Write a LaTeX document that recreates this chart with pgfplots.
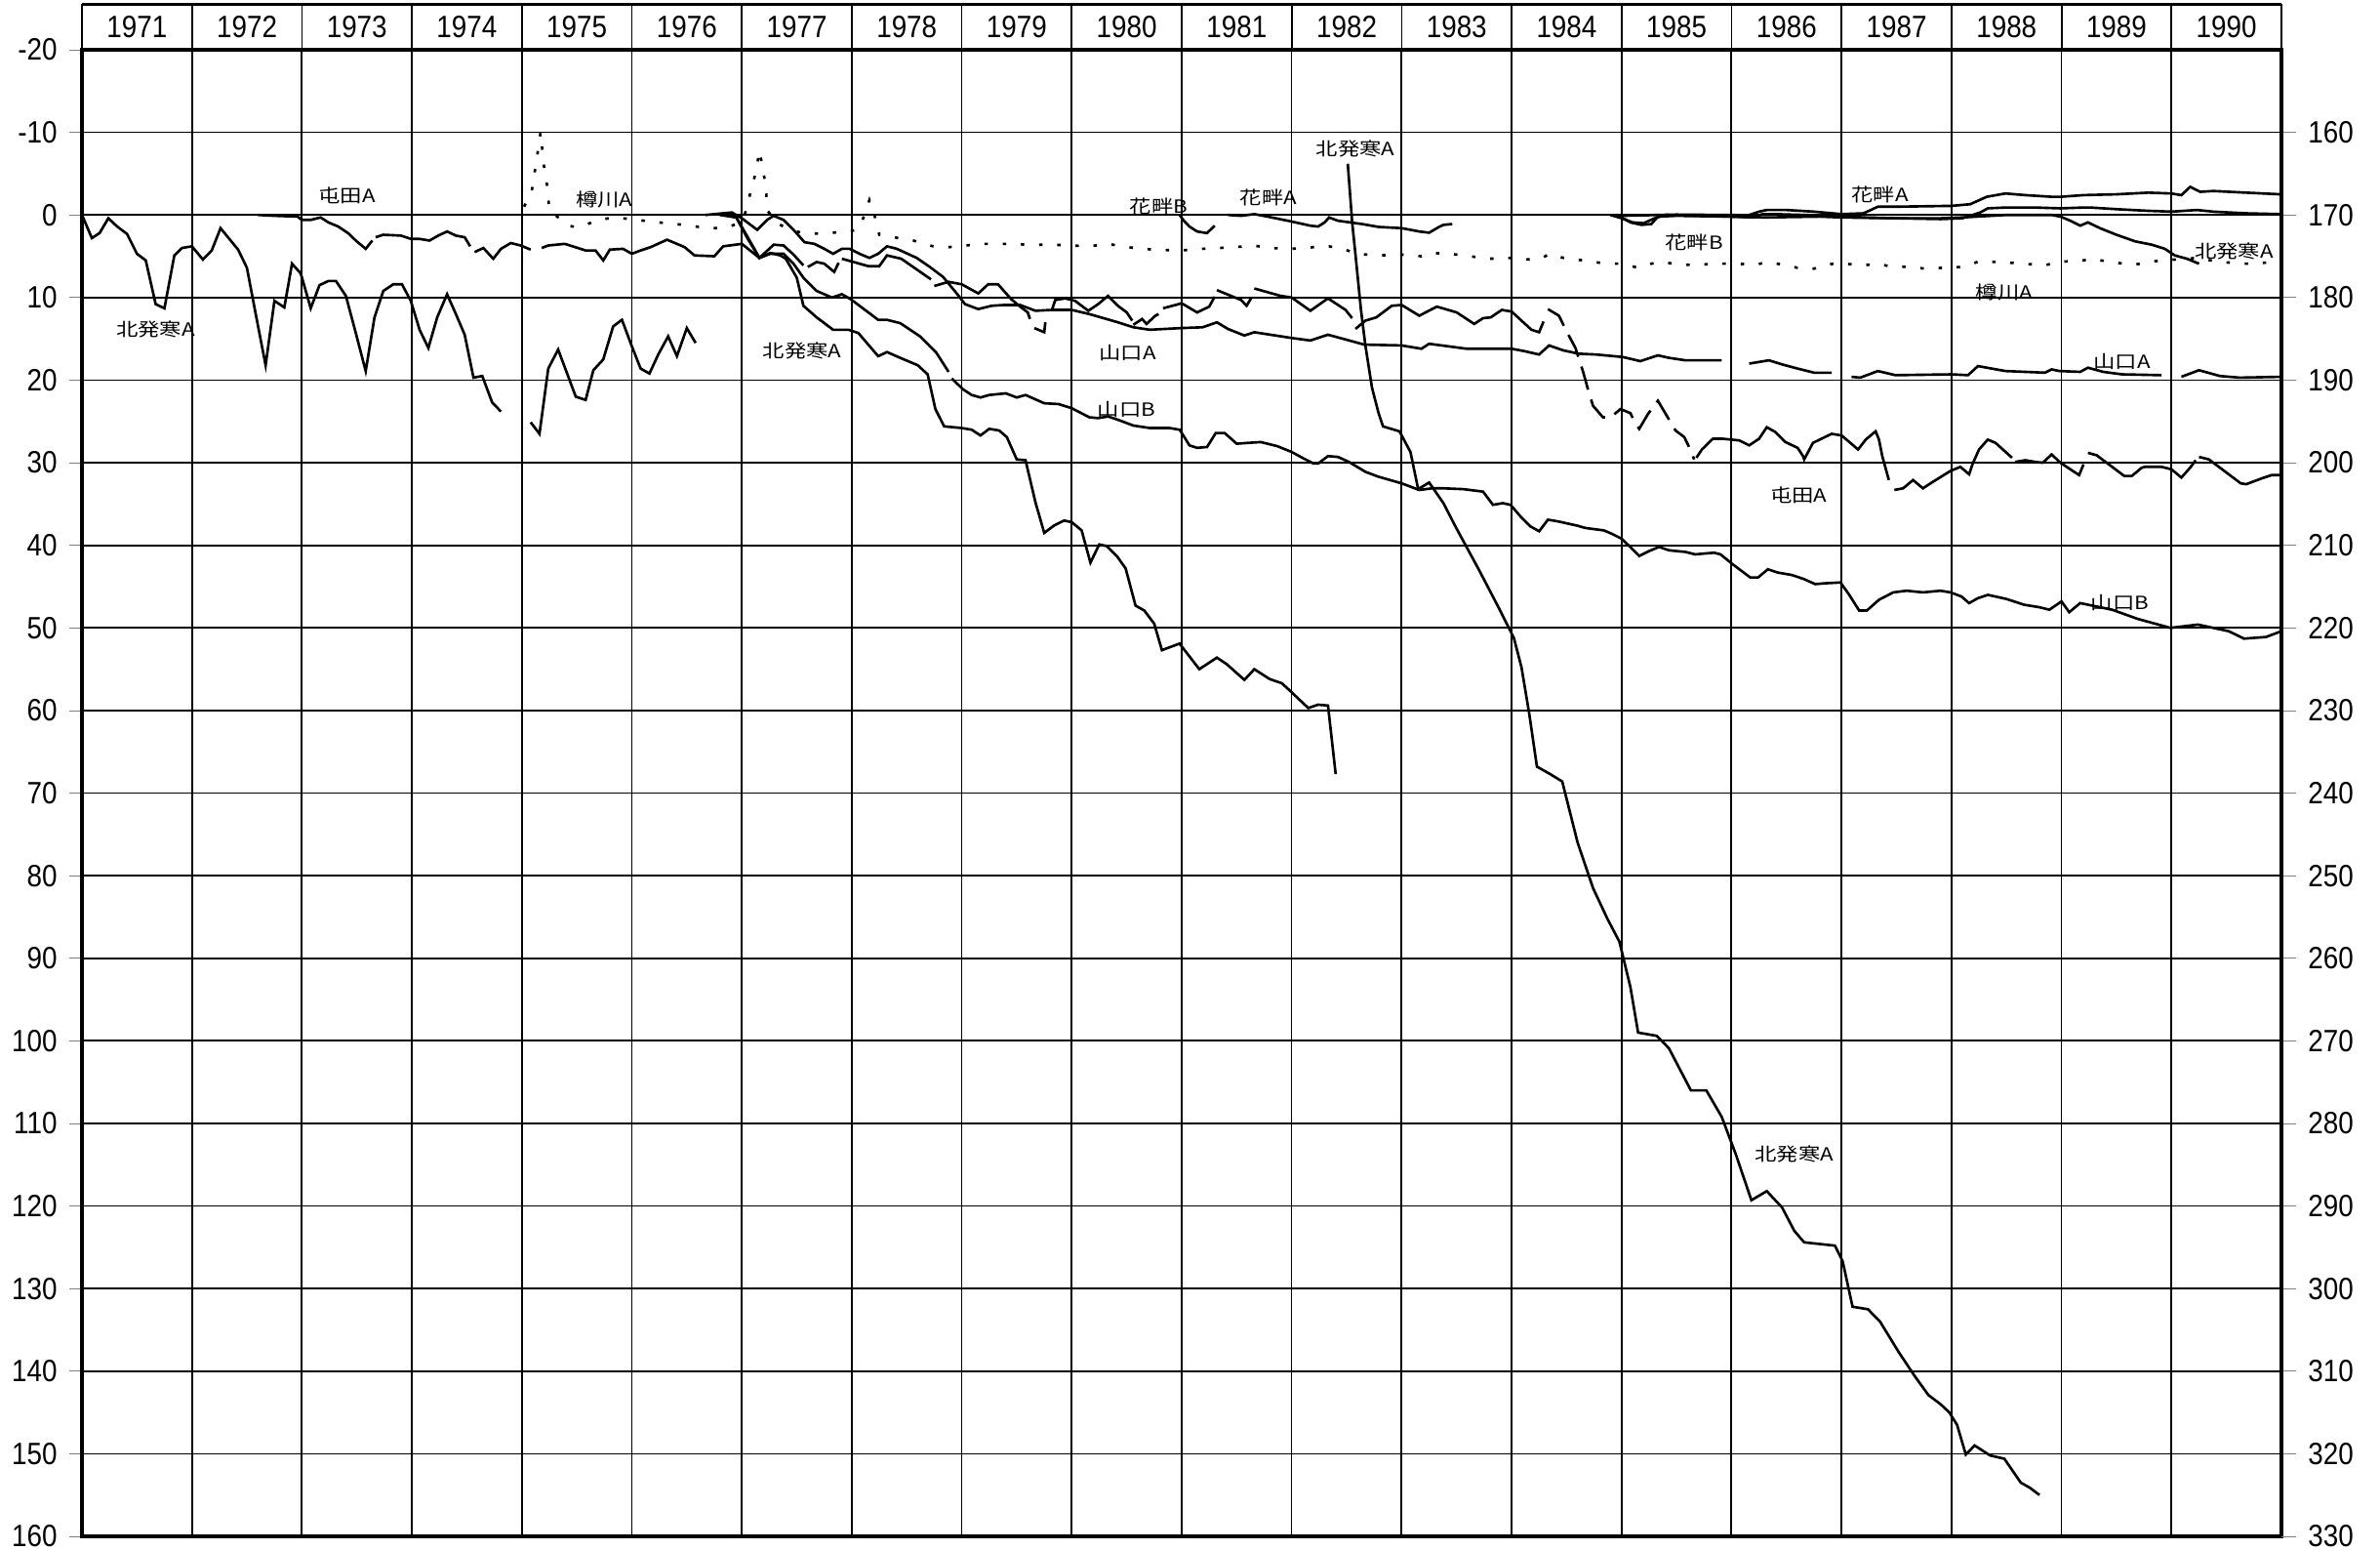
\documentclass[border=0pt]{standalone}
\usepackage{fontspec}
\setmainfont{Liberation Sans}[FakeStretch=0.88]
\newfontfamily\cjk{Noto Sans CJK JP}[FakeStretch=1.2]
\usepackage{pgfplots}
\pgfplotsset{compat=1.18}
\newcommand{\lab}{\cjk\fontsize{5.3}{5.3}\selectfont}
\begin{document}
\begin{tikzpicture}
\path[use as bounding box] (-0.84cm,-0.14cm) rectangle (23.55cm,15.74cm);
\begin{axis}[
  width=22.54cm, height=15.23cm, scale only axis,
  xmin=1971, xmax=1991, ymin=-20, ymax=160, y dir=reverse,
  xtick={1971,...,1991}, xticklabels={}, xtick style={draw=none},
  ytick={-20,-10,...,160}, ytick pos=left,
  tick align=outside, major tick length=0.13cm,
  grid=major, major grid style={black, line width=0.5pt},
  axis line style={line width=1.1pt},
  yticklabel style={font=\fontsize{9}{9}\selectfont},
  /pgf/number format/assume math mode=true,
  unbounded coords=jump, clip=false,
  cycle list={{black,solid,mark=none}},
  no markers,
  every axis plot post/.append style={line width=0.75pt},
]
% header
\draw[line width=1.1pt] (axis cs:1971,-25.5) -- (axis cs:1991,-25.5);
\pgfplotsinvokeforeach{1971,...,1991}{\draw[line width=0.5pt] (axis cs:#1,-20) -- (axis cs:#1,-25.5);}
\pgfplotsinvokeforeach{1971,...,1990}{\node[font=\fontsize{9}{9}\selectfont] at (axis cs:#1.5,-22.8) {#1};}

% 北発寒A
\addplot coordinates {(1971.0,0) (1971.09,2.8) (1971.16,2.2) (1971.24,0.4) (1971.32,1.4) (1971.41,2.3) (1971.50,4.7) (1971.58,5.5) (1971.67,10.8) (1971.75,11.3) (1971.84,4.9) (1971.91,4.0) (1972.0,3.8) (1972.10,5.4) (1972.18,4.3) (1972.26,1.6) (1972.34,2.9) (1972.42,4.2) (1972.50,6.4) (1972.58,12.0) (1972.67,18.2) (1972.75,10.4) (1972.84,11.2) (1972.91,5.9) (1972.99,7.1) (1973.08,11.3) (1973.16,8.5) (1973.24,8.0) (1973.31,8.0) (1973.40,9.8) (1973.49,14.3) (1973.58,18.9) (1973.66,12.4) (1973.74,9.2) (1973.83,8.4) (1973.91,8.4) (1973.99,10.4) (1974.07,13.9) (1974.15,16.1) (1974.23,12.4) (1974.32,9.6) (1974.40,12.0) (1974.48,14.5) (1974.56,19.7) (1974.64,19.5) (1974.73,22.7) (1974.81,23.8) (1974.95,nan)
(1975.08,25.1) (1975.16,26.5) (1975.24,18.6) (1975.33,16.3) (1975.49,22.0) (1975.58,22.4) (1975.65,18.8) (1975.74,17.5) (1975.83,13.5) (1975.91,12.7) (1976.0,15.9) (1976.08,18.6) (1976.16,19.2) (1976.24,16.9) (1976.33,14.7) (1976.41,17.1) (1976.50,13.7) (1976.58,15.5)};
\addplot coordinates {(1976.85,0) (1976.95,0.3) (1977.05,2.8) (1977.16,5.2) (1977.26,4.6) (1977.35,4.9) (1977.40,5.3) (1977.50,7.6) (1977.56,11.0) (1977.68,12.4) (1977.83,13.9) (1977.97,13.9) (1978.06,14.3) (1978.24,17.1) (1978.32,16.6) (1978.44,17.3) (1978.6,18.2) (1978.69,19.3) (1978.76,23.5) (1978.84,25.6) (1979.0,25.8) (1979.09,26.0) (1979.17,26.7) (1979.25,25.9) (1979.34,26.1) (1979.41,26.9) (1979.50,29.6) (1979.58,29.7) (1979.67,34.8) (1979.75,38.5) (1979.84,37.6) (1979.93,37.0) (1980.0,37.2) (1980.09,38.2) (1980.17,42.1) (1980.25,39.9) (1980.32,40.1) (1980.41,41.3) (1980.49,42.8) (1980.58,47.3) (1980.66,47.9) (1980.75,49.5) (1980.82,52.7) (1980.98,51.9) (1981.16,55.0) (1981.32,53.6) (1981.41,54.4) (1981.57,56.3) (1981.66,55.0) (1981.80,56.2) (1981.91,56.7) (1982.0,57.8) (1982.15,59.7) (1982.24,59.3) (1982.33,59.4) (1982.40,67.7)};
\addplot coordinates {(1982.51,-6.2) (1982.55,0.9) (1982.58,4.8) (1982.63,11.5) (1982.67,15.8) (1982.73,20.9) (1982.79,24.0) (1982.83,25.6) (1982.98,26.2) (1983.08,28.7) (1983.15,33.2) (1983.25,32.4) (1983.38,34.9) (1983.50,38.0) (1983.70,42.9) (1983.88,47.5) (1984.02,51.2) (1984.09,54.8) (1984.16,60.4) (1984.23,66.8) (1984.35,67.7) (1984.46,68.6) (1984.60,76.0) (1984.74,81.5) (1984.87,85.2) (1984.98,88.0) (1985.08,93.5) (1985.15,99.0) (1985.32,99.4) (1985.43,100.9) (1985.63,106.0) (1985.77,106.0) (1985.91,109.2) (1986.04,113.8) (1986.18,119.3) (1986.32,118.2) (1986.46,120.2) (1986.57,123.0) (1986.66,124.4) (1986.94,124.8) (1987.01,126.7) (1987.10,132.2) (1987.24,132.5) (1987.35,134.0) (1987.52,137.7) (1987.66,140.5) (1987.79,142.9) (1987.90,144.0) (1987.98,145.0) (1988.05,146.5) (1988.13,150.1) (1988.21,149.0) (1988.35,150.2) (1988.48,150.6) (1988.63,153.5) (1988.71,154.1) (1988.80,155.0)};
\addplot coordinates {(1984.9,0) (1985.0,0.4) (1985.1,0.9) (1985.2,1.0) (1985.3,0.4) (1985.4,0.0) (1986.0,0.2) (1986.3,0.3) (1986.8,0.2) (1987.0,0.3) (1987.5,0.4) (1987.9,0.4) (1988.1,0.3) (1988.5,0.0) (1988.91,0) (1988.99,0.2) (1989.08,0.7) (1989.17,1.3) (1989.24,0.9) (1989.35,1.6) (1989.50,2.4) (1989.67,3.2) (1989.82,3.6) (1989.94,4.1) (1990.03,4.9) (1990.14,5.3) (1990.25,5.9)};

% 花畔A
\addplot coordinates {(1981.42,0) (1981.54,0.1) (1981.66,-0.1) (1981.78,0.2) (1982.0,0.8) (1982.17,1.3) (1982.24,1.4) (1982.30,0.9) (1982.34,0.3) (1982.42,0.7) (1982.64,1.1) (1982.79,1.45) (1983.0,1.6) (1983.16,2.0) (1983.25,2.15) (1983.34,1.45) (1983.38,1.2) (1983.46,1.1)};
\addplot coordinates {(1984.95,0) (1985.0,0.1) (1985.5,-0.05) (1985.9,0.0) (1986.0,0.0) (1986.15,0.05) (1986.25,-0.4) (1986.32,-0.6) (1986.5,-0.6) (1986.75,-0.4) (1987.0,-0.1) (1987.2,-0.2) (1987.33,-1.0) (1987.5,-1.0) (1988.0,-1.1) (1988.17,-1.3) (1988.32,-2.2) (1988.49,-2.6) (1988.67,-2.4) (1988.91,-2.2) (1988.99,-2.2) (1989.20,-2.4) (1989.50,-2.5) (1989.79,-2.7) (1990.0,-2.6) (1990.09,-2.4) (1990.17,-3.4) (1990.26,-2.8) (1990.38,-2.9) (1990.68,-2.7) (1990.99,-2.5)};
% 花畔B
\addplot coordinates {(1980.98,0) (1981.02,0.7) (1981.07,1.4) (1981.14,2.0) (1981.23,2.2) (1981.30,1.3)};
\addplot coordinates {(1984.9,0) (1985.0,0.3) (1985.08,0.9) (1985.18,1.2) (1985.27,1.1) (1985.33,0.2) (1985.5,0.1) (1986.0,0.2) (1986.2,0.3) (1986.28,-0.1) (1986.4,-0.1) (1986.8,0.05) (1987.0,0.1) (1987.2,0.3) (1987.5,0.4) (1987.9,0.5) (1988.1,0.4) (1988.26,-0.3) (1988.33,-0.8) (1988.49,-0.9) (1988.76,-0.9) (1988.99,-0.8) (1989.20,-0.9) (1989.26,-0.9) (1989.50,-0.7) (1989.79,-0.5) (1990.0,-0.4) (1990.23,-0.6) (1990.38,-0.4) (1990.68,-0.2) (1990.99,-0.1)};

% 樽川A (dotted)
\addplot[black, dash pattern=on 1pt off 4.3pt] coordinates {(1975.02,-1.0) (1975.09,-2.9) (1975.14,-7.2) (1975.17,-10.0) (1975.20,-6.0) (1975.23,-3.5) (1975.25,-0.6) (1975.33,0.3) (1975.42,1.3) (1975.51,1.5) (1975.60,1.1) (1975.67,0.7) (1975.83,0.3) (1975.99,0.5) (1976.17,0.8) (1976.32,1.0) (1976.47,1.2) (1976.61,1.45) (1976.76,1.6) (1976.88,1.45) (1976.97,1.0) (1977.03,-0.2) (1977.09,-3.3) (1977.13,-5.3) (1977.16,-7.8) (1977.19,-5.7) (1977.22,-3.3) (1977.23,-0.6) (1977.32,1.0) (1977.44,1.8) (1977.59,2.3) (1977.76,2.2) (1977.88,2.1) (1977.99,2.0) (1978.07,1.6) (1978.12,-0.2) (1978.16,-1.8) (1978.21,0.2) (1978.25,2.4) (1978.38,2.7) (1978.56,3.1) (1978.74,3.8) (1978.88,3.9) (1979.03,3.7) (1979.21,3.5) (1979.39,3.5) (1979.62,3.6) (1979.82,3.6) (1980.0,3.7) (1980.16,3.8) (1980.33,3.5) (1980.50,3.9) (1980.74,4.2) (1980.99,4.3) (1981.19,4.1) (1981.48,3.9) (1981.66,3.7) (1981.78,4.0) (1982.0,4.1) (1982.20,3.9) (1982.34,3.8) (1982.49,4.2) (1982.58,4.7) (1982.79,4.9) (1983.0,4.8) (1983.18,5.0) (1983.26,4.6) (1983.44,4.7) (1983.62,5.0) (1983.80,5.3) (1984.0,5.2) (1984.12,5.4) (1984.27,5.3) (1984.34,4.7) (1984.47,5.2) (1984.65,5.5) (1984.86,5.9) (1985.01,5.9) (1985.12,6.3) (1985.18,6.3) (1985.27,5.9) (1985.35,5.7) (1985.48,5.9) (1985.66,6.1) (1985.83,5.9) (1986.01,5.9) (1986.22,6.0) (1986.34,5.7) (1986.49,6.1) (1986.60,6.4) (1986.75,6.5) (1986.84,6.1) (1986.93,5.9) (1987.02,5.9) (1987.20,6.1) (1987.33,5.9) (1987.43,6.2) (1987.61,6.3) (1987.76,6.5) (1987.93,6.4) (1988.08,6.3) (1988.26,5.6) (1988.55,5.8) (1988.85,6.1) (1988.96,5.7) (1989.20,5.5) (1989.26,5.3) (1989.50,5.8) (1989.67,6.0) (1989.85,5.6) (1990.03,5.4) (1990.23,5.2) (1990.44,5.7) (1990.68,5.9) (1990.82,5.8) (1990.99,5.7)};

% 屯田A
\addplot coordinates {(1972.60,0) (1972.75,0.1) (1972.96,0.2) (1973.0,0.6) (1973.08,0.6) (1973.17,0.3) (1973.24,0.9) (1973.33,1.4) (1973.42,2.2) (1973.49,3.1) (1973.58,4.1) (1973.64,3.1) (1973.655,nan) (1973.67,2.7) (1973.74,2.4) (1973.90,2.5) (1973.99,2.9) (1974.07,2.9) (1974.16,3.1) (1974.24,2.5) (1974.32,2.0) (1974.40,2.5) (1974.48,2.7) (1974.53,3.8) (1974.55,nan) (1974.57,4.5) (1974.65,4.0) (1974.74,5.3) (1974.81,4.1) (1974.90,3.4) (1974.99,3.7) (1975.08,4.2) (1975.13,nan) (1975.18,4.0) (1975.24,3.7) (1975.39,3.5) (1975.58,4.3) (1975.67,4.3) (1975.74,5.5) (1975.8,4.2) (1975.92,4.1) (1976.0,4.7) (1976.08,4.3) (1976.17,3.9) (1976.32,3.0) (1976.41,3.5) (1976.48,3.9) (1976.57,4.9) (1976.75,5.0) (1976.83,3.8) (1977.0,3.5) (1977.16,5.2) (1977.29,3.6) (1977.38,3.7) (1977.47,4.8) (1977.56,6.1) (1977.58,nan) (1977.60,6.3) (1977.68,5.7) (1977.75,5.9) (1977.84,6.9) (1977.88,5.8) (1977.895,nan) (1977.91,5.3) (1978.15,6.2) (1978.25,6.2) (1978.32,4.9) (1978.45,5.3) (1978.72,7.8) (1978.735,nan) (1978.75,8.6) (1978.88,8.1) (1979.0,8.4) (1979.15,9.5) (1979.24,8.4) (1979.33,8.4) (1979.45,10.2) (1979.53,11.1) (1979.6,11.8) (1979.62,12.6) (1979.64,nan) (1979.66,13.7) (1979.75,14.2) (1979.76,13.0) (1979.79,nan) (1979.82,11.5) (1979.85,10.3) (1979.94,10.1) (1980.03,10.4) (1980.15,11.6) (1980.24,10.8) (1980.33,9.8) (1980.42,11.0) (1980.50,11.8) (1980.55,12.8) (1980.555,nan) (1980.56,13.3) (1980.64,12.6) (1980.68,13.2) (1980.76,12.2) (1980.79,12.0) (1980.81,nan) (1980.83,11.3) (1981.0,10.7) (1981.14,11.8) (1981.25,11.1) (1981.30,9.9) (1981.31,nan) (1981.32,9.1) (1981.54,10.3) (1981.59,11.0) (1981.63,10.1) (1981.645,nan) (1981.66,8.9) (1981.90,9.8) (1982.0,10.0) (1982.17,11.6) (1982.33,10.1) (1982.49,11.5) (1982.55,12.5) (1982.565,nan) (1982.58,13.8) (1982.67,12.8) (1982.77,12.4) (1982.91,11.0) (1983.0,10.9) (1983.16,12.2) (1983.32,11.1) (1983.50,11.8) (1983.66,13.2) (1983.74,12.5) (1983.81,12.4) (1983.91,11.5) (1984.0,11.7) (1984.18,13.9) (1984.25,14.2) (1984.29,12.9)};
\addplot[black, dash pattern=on 7pt off 3pt] coordinates {(1984.33,11.4) (1984.43,12.2) (1984.50,14.1) (1984.58,16.1) (1984.65,19.0) (1984.70,21.4) (1984.74,23.1) (1984.83,24.5) (1984.90,24.5) (1984.99,23.5) (1985.08,24.0) (1985.12,25.1) (1985.16,25.9) (1985.24,24.1) (1985.33,22.5) (1985.41,24.3) (1985.49,26.1) (1985.57,26.9) (1985.61,28.0) (1985.66,29.6)};
\addplot coordinates {(1985.68,29.4) (1985.73,28.4) (1985.83,27.1) (1985.92,27.1) (1986.07,27.3) (1986.16,27.9) (1986.25,27.1) (1986.32,25.7) (1986.40,26.3) (1986.49,27.5) (1986.60,28.2) (1986.65,29.2) (1986.66,29.6) (1986.74,27.6) (1986.91,26.5) (1987.0,26.7) (1987.08,27.6) (1987.15,28.4) (1987.22,27.2) (1987.31,26.2) (1987.34,27.2) (1987.37,29.2) (1987.43,32.1) (1987.455,nan) (1987.48,33.3) (1987.56,33.1) (1987.65,32.1) (1987.74,33.1) (1987.82,32.4) (1987.99,31.0) (1988.08,30.5) (1988.16,31.4) (1988.19,30.2) (1988.25,28.4) (1988.33,27.2) (1988.40,27.6) (1988.55,29.4) (1988.565,nan) (1988.58,29.9) (1988.67,29.7) (1988.76,29.9) (1988.83,30.0) (1988.91,29.0) (1988.99,30.0) (1989.16,31.5) (1989.20,30.2) (1989.22,nan) (1989.24,28.8) (1989.32,29.1) (1989.47,30.6) (1989.57,31.6) (1989.64,31.6) (1989.73,30.6) (1989.76,30.5) (1989.91,30.5) (1990.0,30.8) (1990.09,31.8) (1990.17,30.6) (1990.22,29.7) (1990.235,nan) (1990.25,29.3) (1990.34,29.6) (1990.50,31.2) (1990.63,32.5) (1990.68,32.6) (1990.82,31.9) (1990.91,31.5) (1990.99,31.5)};

% 山口A
\addplot coordinates {(1976.67,0) (1976.91,-0.3) (1977.0,0.4) (1977.14,1.8) (1977.23,0.6) (1977.29,0.1) (1977.38,0.6) (1977.47,1.8) (1977.57,3.3) (1977.66,3.5) (1977.75,4.1) (1977.83,4.7) (1977.91,4.1) (1977.98,4.1) (1978.07,4.7) (1978.16,5.2) (1978.24,4.7) (1978.32,3.8) (1978.41,4.1) (1978.59,5.2) (1978.71,6.3) (1978.83,7.5) (1978.96,9.6) (1979.03,10.8) (1979.15,11.4) (1979.27,11.0) (1979.39,10.9) (1979.53,10.9) (1979.67,11.6) (1979.82,11.5) (1980.0,11.5) (1980.16,12.0) (1980.42,13.0) (1980.56,13.6) (1980.71,13.9) (1980.99,13.7) (1981.19,13.6) (1981.32,13.0) (1981.42,13.8) (1981.57,14.6) (1981.66,14.2) (1982.0,14.9) (1982.17,15.2) (1982.33,14.5) (1982.66,15.7) (1983.0,15.8) (1983.18,16.2) (1983.25,15.6) (1983.59,16.2) (1984.0,16.2) (1984.12,16.5) (1984.25,16.9) (1984.34,15.8) (1984.47,16.4) (1984.61,16.8) (1984.77,16.9) (1985.01,17.2) (1985.17,17.7) (1985.33,17.0) (1985.43,17.3) (1985.58,17.6) (1985.91,17.6) (1986.0,nan) (1986.16,18.0) (1986.34,17.6) (1986.46,18.1) (1986.60,18.6) (1986.75,19.1) (1986.91,19.1) (1987.0,nan) (1987.09,19.6) (1987.17,19.7) (1987.33,18.9) (1987.49,19.4) (1988.0,19.3) (1988.15,19.4) (1988.24,18.3) (1988.49,18.9) (1988.85,19.1) (1988.91,18.7) (1988.98,18.9) (1989.17,19.0) (1989.24,18.5) (1989.38,19.0) (1989.55,19.3) (1989.91,19.4) (1990.0,nan) (1990.09,19.6) (1990.25,18.8) (1990.44,19.5) (1990.62,19.7) (1990.99,19.6)};

% 山口B
\addplot coordinates {(1976.8,0) (1976.95,0.3) (1977.05,2.6) (1977.16,5.2) (1977.26,4.7) (1977.38,4.7) (1977.47,5.9) (1977.56,7.6) (1977.68,9.2) (1977.82,10.0) (1977.91,9.6) (1977.99,10.2) (1978.24,12.7) (1978.32,12.7) (1978.44,13.1) (1978.62,14.7) (1978.77,16.7) (1978.88,19.0) (1978.895,nan) (1978.91,19.8) (1979.01,21.1) (1979.09,21.8) (1979.17,22.1) (1979.25,21.8) (1979.40,21.6) (1979.50,22.1) (1979.58,21.8) (1979.75,22.8) (1979.88,22.9) (1980.0,23.4) (1980.16,24.5) (1980.24,24.6) (1980.33,24.4) (1980.42,24.8) (1980.56,25.5) (1980.71,25.8) (1980.89,25.8) (1980.98,26.0) (1981.01,26.6) (1981.07,27.9) (1981.14,28.2) (1981.23,28.1) (1981.31,26.4) (1981.39,26.4) (1981.50,27.7) (1981.60,27.6) (1981.72,27.5) (1981.87,28.0) (1982.0,28.7) (1982.11,29.5) (1982.20,30.1) (1982.24,30.1) (1982.33,29.2) (1982.42,29.3) (1982.52,29.9) (1982.67,31.1) (1982.79,31.7) (1983.0,32.5) (1983.16,33.3) (1983.28,33.1) (1983.38,33.1) (1983.56,33.2) (1983.74,33.5) (1983.83,35.1) (1983.92,34.9) (1983.99,35.1) (1984.08,36.5) (1984.17,37.7) (1984.25,38.3) (1984.33,36.9) (1984.42,37.1) (1984.59,37.6) (1984.67,37.9) (1984.84,38.2) (1984.91,38.6) (1985.0,39.2) (1985.07,40.1) (1985.16,41.3) (1985.25,40.7) (1985.34,40.2) (1985.43,40.6) (1985.50,40.7) (1985.58,40.8) (1985.67,41.1) (1985.75,41.0) (1985.84,40.9) (1985.90,41.1) (1986.01,42.3) (1986.08,43.0) (1986.17,43.9) (1986.24,43.9) (1986.33,42.9) (1986.42,43.3) (1986.55,43.6) (1986.66,44.1) (1986.76,44.7) (1986.85,44.6) (1986.99,44.5) (1987.07,46.0) (1987.16,47.9) (1987.23,47.9) (1987.34,46.6) (1987.47,45.7) (1987.59,45.5) (1987.74,45.7) (1987.90,45.5) (1987.99,45.7) (1988.09,46.2) (1988.16,47.0) (1988.24,46.4) (1988.33,46.0) (1988.50,46.5) (1988.66,47.2) (1988.80,47.5) (1988.89,47.8) (1989.0,46.8) (1989.07,48.1) (1989.17,47.0) (1989.46,47.8) (1989.69,48.9) (1989.99,50.0) (1990.24,49.6) (1990.52,50.4) (1990.66,51.3) (1990.86,51.1) (1991.0,50.4)};

% labels
\node[font=\lab] at (axis cs:1971.67,13.8) {北発寒A};
\node[font=\lab] at (axis cs:1973.41,-2.4) {屯田A};
\node[font=\lab] at (axis cs:1975.75,-1.8) {樽川A};
\node[font=\lab] at (axis cs:1977.55,16.5) {北発寒A};
\node[font=\lab] at (axis cs:1980.79,-1.0) {花畔B};
\node[font=\lab] at (axis cs:1981.79,-2.1) {花畔A};
\node[font=\lab] at (axis cs:1982.58,-8.0) {北発寒A};
\node[font=\lab] at (axis cs:1980.51,16.7) {山口A};
\node[font=\lab] at (axis cs:1980.50,23.5) {山口B};
\node[font=\lab] at (axis cs:1985.66,3.3) {花畔B};
\node[font=\lab] at (axis cs:1987.35,-2.5) {花畔A};
\node[font=\lab] at (axis cs:1990.57,4.4) {北発寒A};
\node[font=\lab] at (axis cs:1988.48,9.4) {樽川A};
\node[font=\lab] at (axis cs:1989.55,17.8) {山口A};
\node[font=\lab] at (axis cs:1986.61,33.9) {屯田A};
\node[font=\lab] at (axis cs:1989.53,47.0) {山口B};
\node[font=\lab] at (axis cs:1986.57,113.7) {北発寒A};
\end{axis}
\begin{axis}[
  width=22.54cm, height=15.23cm, scale only axis,
  xmin=1971, xmax=1991, ymin=150, ymax=330, y dir=reverse,
  axis x line=none, axis y line*=right,
  ytick={160,170,...,330},
  tick align=outside, major tick length=0.15cm,
  axis line style={line width=1.1pt},
  yticklabel style={font=\fontsize{9}{9}\selectfont},
  /pgf/number format/assume math mode=true,
]
\addplot[draw=none] coordinates {(1971,160) (1991,320)};
\end{axis}
\end{tikzpicture}
\end{document}
